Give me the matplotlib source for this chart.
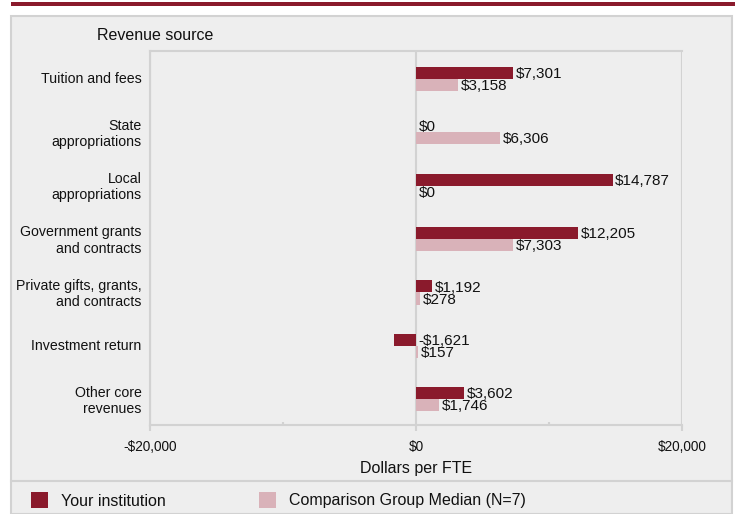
import matplotlib
matplotlib.use("Agg")
import matplotlib.pyplot as plt
from matplotlib.patches import Rectangle
from matplotlib.lines import Line2D
from matplotlib.ticker import FuncFormatter
import numpy as np

plt.rcParams['font.family'] = ['Liberation Sans', 'DejaVu Sans']

categories = ["Tuition and fees", "State\nappropriations", "Local\nappropriations",
              "Government grants\nand contracts", "Private gifts, grants,\nand contracts",
              "Investment return", "Other core\nrevenues"]
your_inst = [7301, 0, 14787, 12205, 1192, -1621, 3602]
comparison = [3158, 6306, 0, 7303, 278, 157, 1746]
series_names = ["Your institution", "Comparison Group Median (N=7)"]

DARK = "#8a1a2c"
PINK = "#d9b2b9"
PANEL = "#eeeeee"
EDGE = "#d2d2d2"

W, H = 737, 514
fig = plt.figure(figsize=(W / 100, H / 100), dpi=100, facecolor="white")

def fx(px):
    return px / W

def fy(py):
    return 1 - py / H

# header band and grey panel (kept behind the axes)
fig.patches.append(Rectangle((fx(11), fy(6)), fx(724), 4 / H, transform=fig.transFigure,
                             facecolor=DARK, edgecolor="none", zorder=-10))
fig.patches.append(Rectangle((fx(11), fy(514)), fx(721), 498 / H, transform=fig.transFigure,
                             facecolor=PANEL, edgecolor=EDGE, lw=1.5, zorder=-10))
fig.lines.append(Line2D([fx(11), fx(732)], [fy(481), fy(481)], transform=fig.transFigure,
                        color=EDGE, lw=1.5, zorder=-9))

ax = fig.add_axes([fx(150), fy(425), fx(532), (425 - 51) / H])
ax.set_facecolor(PANEL)

y = np.arange(len(categories))
h = 0.225
ax.barh(y - h / 2 + 0.02, your_inst, height=h, color=DARK, zorder=3)
ax.barh(y + h / 2 + 0.02, comparison, height=h, color=PINK, zorder=3)

def money(v):
    return "-$" + f"{-v:,.0f}" if v < 0 else "$" + f"{v:,.0f}"

for i in range(len(categories)):
    for val, off in ((your_inst[i], -h / 2), (comparison[i], h / 2)):
        ax.text(max(val, 0) + 200, i + off + 0.04, money(val), va="center", ha="left",
                fontsize=11, color="#111111", zorder=4)

ax.set_xlim(-20000, 20000)
ax.set_ylim(len(categories) - 0.5, -0.5)
ax.set_yticks(y)
ax.set_yticklabels(categories, fontsize=10.2, color="#111111")
ax.tick_params(axis="y", length=0, pad=6)
ax.set_xticks([-20000, 0, 20000])
ax.set_xticks([-10000, 10000], minor=True)
ax.xaxis.set_major_formatter(FuncFormatter(lambda v, p: money(v)))
ax.tick_params(axis="x", which="major", length=4, width=1.5, color=EDGE, labelsize=9.8,
               pad=7, labelcolor="#111111")
ax.tick_params(axis="x", which="minor", length=2, width=1.5, color=EDGE, direction="in")
ax.grid(axis="x", which="major", color=EDGE, lw=1.5, zorder=0)
for s in ["left", "top", "bottom"]:
    ax.spines[s].set_color(EDGE)
    ax.spines[s].set_linewidth(1.5)
ax.spines["right"].set_visible(False)
ax.set_xlabel("Dollars per FTE", fontsize=11.5, labelpad=5, color="#111111")

fig.text(fx(97), fy(36), "Revenue source", fontsize=11.5, va="center", ha="left", color="#111111")

# legend row
for xs, name, col in ((31, series_names[0], DARK), (259, series_names[1], PINK)):
    fig.patches.append(Rectangle((fx(xs), fy(508)), fx(17), 16 / H, transform=fig.transFigure,
                                 facecolor=col, edgecolor="none"))
    fig.text(fx(xs + 30), fy(501), name, fontsize=11.5, va="center", ha="left", color="#111111")

fig.savefig("out.png", dpi=100, facecolor="white")
